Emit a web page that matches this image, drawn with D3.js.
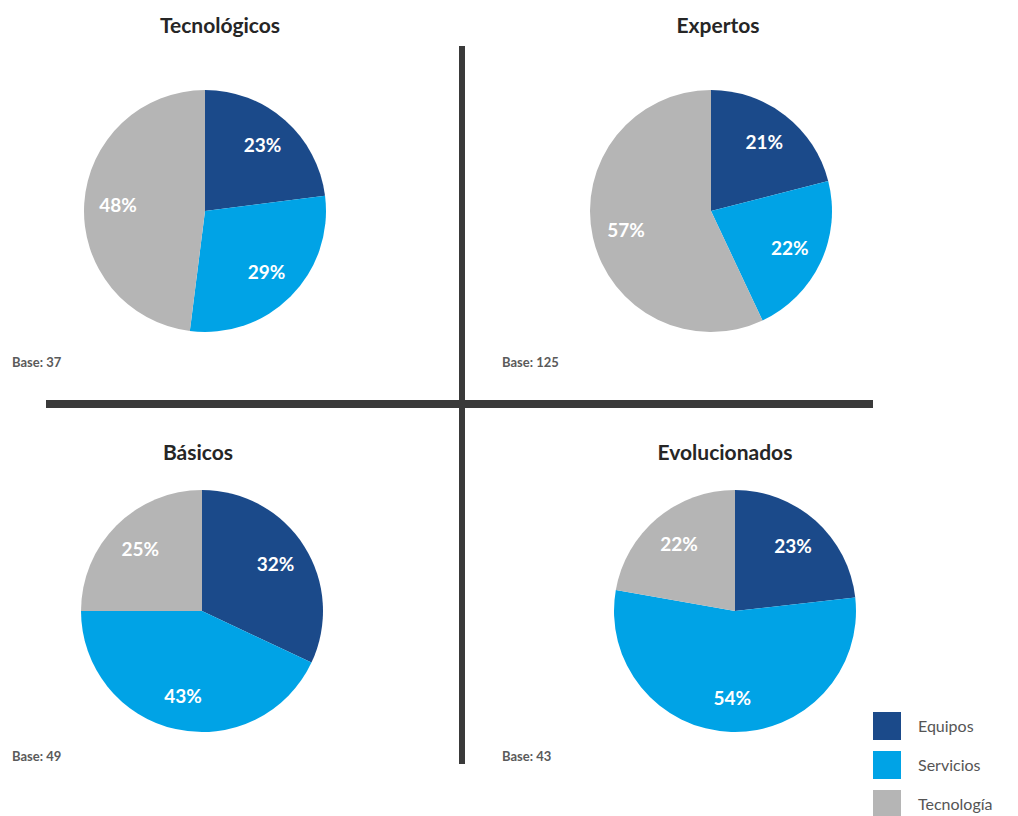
<!DOCTYPE html>
<html>
<head>
<meta charset="utf-8">
<script src="https://cdn.jsdelivr.net/npm/d3@7"></script>
<style>
  body { margin: 0; background: #fff; }
  text { font-family: Lato, "Open Sans", sans-serif; }
</style>
</head>
<body>
<div id="chart"></div>
<script>
// segments, same order in every pie (clockwise from 12 o'clock)
const categories = ["Equipos", "Servicios", "Tecnología"];
const colors = ["#1b4a8a", "#00a3e6", "#b5b5b5"];

// groups
const groups = ["Tecnológicos", "Expertos", "Básicos", "Evolucionados"];
const bases = [37, 125, 49, 43];

// percentages per group (Equipos, Servicios, Tecnología)
const tecnologicos = [23, 29, 48];
const expertos = [21, 22, 57];
const basicos = [32, 43, 25];
const evolucionados = [23, 54, 22];
const values = [tecnologicos, expertos, basicos, evolucionados];

const width = 1018, height = 816;
const radius = 121;

// layout of each panel
const panels = [
  {cx: 205, cy: 211, tx: 220, ty: 33, bx: 12, by: 367},
  {cx: 711, cy: 211, tx: 718, ty: 33, bx: 502, by: 367},
  {cx: 202, cy: 611, tx: 198, ty: 460, bx: 12, by: 761},
  {cx: 735, cy: 611, tx: 725, ty: 460, bx: 502, by: 761}
];

const svg = d3.select("#chart")
  .append("svg")
  .attr("width", width)
  .attr("height", height);

const color = d3.scaleOrdinal().domain(categories).range(colors);

const pie = d3.pie().sort(null).value(d => d.value);
const arc = d3.arc().innerRadius(0).outerRadius(radius);
const labelArc = d3.arc().innerRadius(radius * 0.72).outerRadius(radius * 0.72);

// divider lines
svg.append("line")
  .attr("x1", 462).attr("x2", 462)
  .attr("y1", 46).attr("y2", 764)
  .attr("stroke", "#3a3a3a")
  .attr("stroke-width", 6);
svg.append("line")
  .attr("x1", 46).attr("x2", 873)
  .attr("y1", 404).attr("y2", 404)
  .attr("stroke", "#3a3a3a")
  .attr("stroke-width", 8);

groups.forEach((name, i) => {
  const p = panels[i];
  const data = categories.map((c, j) => ({key: c, value: values[i][j]}));

  svg.append("text")
    .attr("x", p.tx).attr("y", p.ty)
    .attr("text-anchor", "middle")
    .attr("font-size", 21)
    .attr("font-weight", "bold")
    .attr("fill", "#262626")
    .text(name);

  const g = svg.append("g")
    .attr("transform", `translate(${p.cx},${p.cy})`);

  const slices = g.selectAll("g.slice")
    .data(pie(data))
    .enter().append("g")
    .attr("class", "slice");

  slices.append("path")
    .attr("d", arc)
    .attr("fill", d => color(d.data.key));

  slices.append("text")
    .attr("transform", d => `translate(${labelArc.centroid(d)})`)
    .attr("text-anchor", "middle")
    .attr("dy", "0.35em")
    .attr("font-size", 19)
    .attr("font-weight", "bold")
    .attr("fill", "#fff")
    .text(d => d.data.value + "%");

  svg.append("text")
    .attr("x", p.bx).attr("y", p.by)
    .attr("font-size", 13)
    .attr("font-weight", "bold")
    .attr("fill", "#5a5a5a")
    .text("Base: " + bases[i]);
});

// legend
const legend = svg.selectAll(".legend")
  .data(categories)
  .enter().append("g")
  .attr("class", "legend")
  .attr("transform", (d, i) => `translate(873,${712 + i * 39})`);

legend.append("rect")
  .attr("width", 28)
  .attr("height", 28)
  .attr("fill", d => color(d));

legend.append("text")
  .attr("x", 45)
  .attr("y", 14)
  .attr("dy", "0.35em")
  .attr("font-size", 16)
  .attr("fill", "#555")
  .text(d => d);
</script>
</body>
</html>
